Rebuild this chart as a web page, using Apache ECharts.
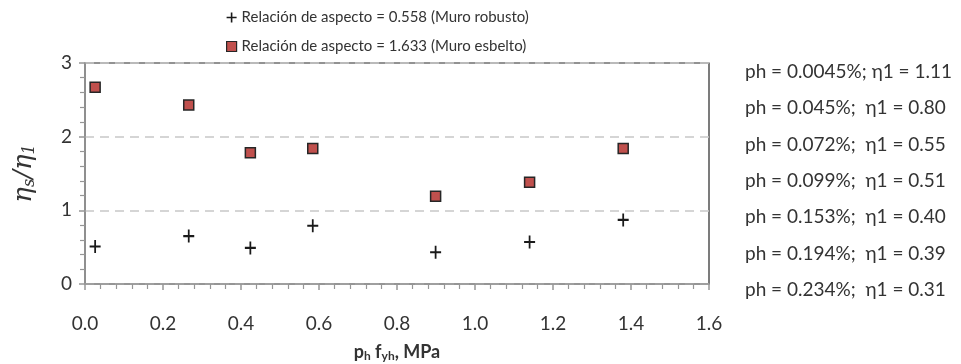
<!DOCTYPE html>
<html>
<head>
<meta charset="utf-8">
<script src="https://cdn.jsdelivr.net/npm/echarts@6/dist/echarts.min.js"></script>
<style>
  html, body { margin: 0; padding: 0; background: #fff; }
  #chart { width: 961px; height: 364px; }
</style>
</head>
<body>
<div id="chart"></div>
<script>
// p_h * f_yh (MPa) for each wall
const phFyh = [0.026, 0.266, 0.424, 0.584, 0.899, 1.140, 1.380];
// ηs/η1 for the stocky wall (aspect ratio 0.558)
const robusto = [0.51, 0.65, 0.49, 0.79, 0.43, 0.57, 0.87];
// ηs/η1 for the slender wall (aspect ratio 1.633)
const esbelto = [2.67, 2.43, 1.78, 1.84, 1.19, 1.38, 1.84];
// Reinforcement ratio notes listed to the right of the plot
const phLabels = [
  'ph = 0.0045%; η1 = 1.11',
  'ph = 0.045%;  η1 = 0.80',
  'ph = 0.072%;  η1 = 0.55',
  'ph = 0.099%;  η1 = 0.51',
  'ph = 0.153%;  η1 = 0.40',
  'ph = 0.194%;  η1 = 0.39',
  'ph = 0.234%;  η1 = 0.31'
];
const seriesNames = [
  'Relación de aspecto = 0.558 (Muro robusto)',
  'Relación de aspecto = 1.633 (Muro esbelto)'
];

const FONT = 'Lato';
const TXT = '#333333';
const plusPath = 'path://M4.2,0H5.8V4.2H10V5.8H5.8V10H4.2V5.8H0V4.2H4.2Z';

const chart = echarts.init(document.getElementById('chart'), null, { renderer: 'canvas' });

const noteGraphics = phLabels.map((t, i) => ({
  type: 'text',
  x: 745,
  y: 72 + i * 36.3,
  style: { text: t, font: '19px ' + FONT, fill: TXT, verticalAlign: 'middle' }
}));

chart.setOption({
  animation: false,
  backgroundColor: '#ffffff',
  grid: {
    left: 85, right: 252, top: 63, bottom: 80,
    outerBoundsMode: 'none',
    containLabel: false,
    show: true, borderColor: '#262626', borderWidth: 1.2, backgroundColor: 'transparent'
  },
  legend: {
    orient: 'vertical',
    left: 221, top: 5,
    itemWidth: 10, itemHeight: 10, itemGap: 14,
    textStyle: { fontFamily: FONT, fontSize: 15, color: TXT },
    data: [
      { name: seriesNames[0], icon: plusPath, itemStyle: { color: '#1a1a1a', opacity: 1 } },
      { name: seriesNames[1], icon: 'rect', itemStyle: { color: '#c0504d', borderColor: '#262626', borderWidth: 1.2, opacity: 1 } }
    ]
  },
  xAxis: {
    type: 'value', min: 0, max: 1.6, interval: 0.2,
    name: '{b|p}{bs|h}{b| f}{bs|yh}{b|, MPa}',
    nameLocation: 'middle', nameGap: 58,
    nameTextStyle: {
      rich: {
        b: { fontFamily: FONT, fontWeight: 'bold', fontSize: 18, color: TXT },
        bs: { fontFamily: FONT, fontWeight: 'bold', fontSize: 12, color: TXT, padding: [8, 0, 0, 0] }
      }
    },
    axisLine: { lineStyle: { color: '#969696', width: 1.5 } },
    axisTick: { show: true, length: 6, lineStyle: { color: '#969696', width: 1.5 } },
    minorTick: { show: true, splitNumber: 5, length: 5, lineStyle: { color: '#969696', width: 1.2 } },
    axisLabel: { fontFamily: FONT, fontSize: 19, color: TXT, margin: 30, formatter: v => v.toFixed(1) },
    splitLine: { show: false }
  },
  yAxis: {
    type: 'value', min: 0, max: 3, interval: 1,
    name: '{i|η}{is|s}{i|/η}{is|1}',
    nameLocation: 'middle', nameGap: 47, nameRotate: 90,
    nameTextStyle: {
      rich: {
        i: { fontFamily: 'DejaVu Serif', fontStyle: 'italic', fontSize: 26, color: TXT },
        is: { fontFamily: 'DejaVu Serif', fontStyle: 'italic', fontSize: 16, color: TXT, padding: [12, 0, 0, 0] }
      }
    },
    axisLine: { show: true, lineStyle: { color: '#969696', width: 1.5 } },
    axisTick: { show: true, length: 6, lineStyle: { color: '#969696', width: 1.5 } },
    minorTick: { show: true, splitNumber: 5, length: 5, lineStyle: { color: '#969696', width: 1.2 } },
    axisLabel: { fontFamily: FONT, fontSize: 19, color: TXT, margin: 13 },
    splitLine: {
      show: true,
      lineStyle: { color: '#c8c8c8', width: 1.5, type: [9, 6] }
    }
  },
  series: [
    {
      name: seriesNames[0], type: 'scatter',
      symbol: plusPath, symbolSize: [11, 13],
      itemStyle: { color: '#1a1a1a', opacity: 1 },
      data: phFyh.map((x, i) => [x, robusto[i]]),
      z: 3
    },
    {
      name: seriesNames[1], type: 'scatter',
      symbol: 'rect', symbolSize: 10,
      itemStyle: { color: '#c0504d', borderColor: '#262626', borderWidth: 1.5, opacity: 1 },
      data: phFyh.map((x, i) => [x, esbelto[i]]),
      z: 3
    }
  ],
  graphic: noteGraphics
});
</script>
</body>
</html>
